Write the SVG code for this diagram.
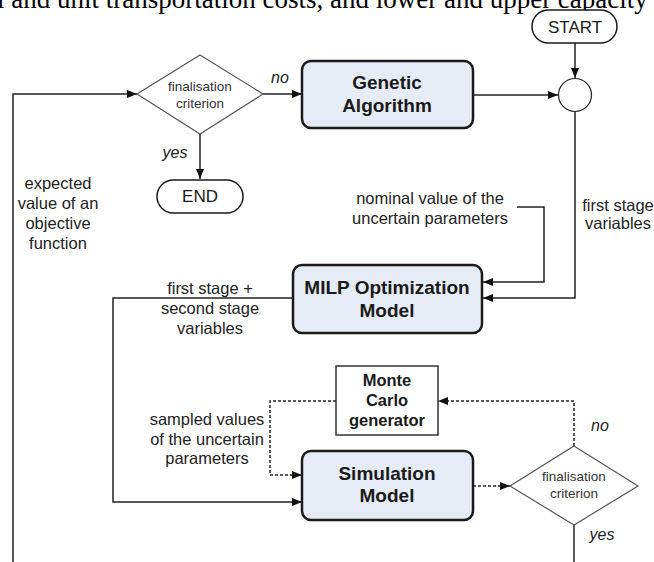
<svg xmlns="http://www.w3.org/2000/svg" width="654" height="562" viewBox="0 0 654 562">
<defs>
<style>
.serif{font-family:"Liberation Serif","Times New Roman",serif;font-size:27px;fill:#000}
.lbl{font-family:"Liberation Sans",Arial,sans-serif;font-size:16.5px;fill:#222;text-anchor:middle}
.it{font-family:"Liberation Sans",Arial,sans-serif;font-size:16px;font-style:italic;fill:#222;text-anchor:middle}
.dtxt{font-family:"Liberation Sans",Arial,sans-serif;font-size:13.5px;fill:#333;text-anchor:middle}
.btxt{font-family:"Liberation Sans",Arial,sans-serif;font-size:19px;font-weight:bold;fill:#1a1a1a;text-anchor:middle}
.mtxt{font-family:"Liberation Sans",Arial,sans-serif;font-size:16.5px;font-weight:bold;fill:#1a1a1a;text-anchor:middle}
.ttxt{font-family:"Liberation Sans",Arial,sans-serif;font-size:17px;fill:#1a1a1a;text-anchor:middle}
.box{fill:#e6ecf6;stroke:#1a1a1a;stroke-width:2.5}
.dia{fill:#fff;stroke:#555;stroke-width:1.2}
.term{fill:#fff;stroke:#1a1a1a;stroke-width:1.5}
.ln{fill:none;stroke:#222;stroke-width:1.5}
.dash{fill:none;stroke:#222;stroke-width:1.5;stroke-dasharray:3,2}
</style>
<marker id="ah" viewBox="0 0 10 8" refX="10" refY="4" markerWidth="10" markerHeight="8" markerUnits="userSpaceOnUse" orient="auto">
<path d="M0,0 L10,4 L0,8 Z" fill="#111"/>
</marker>
</defs>
<rect width="654" height="562" fill="#fff"/>
<text class="serif" x="-3" y="7.5">l and unit transportation costs, and lower and upper capacity o</text>

<g id="connectors">
<path class="ln" d="M13,562 V94 H137" marker-end="url(#ah)"/>
<path class="ln" d="M263,94 H302" marker-end="url(#ah)"/>
<path class="ln" d="M200,134 V179" marker-end="url(#ah)"/>
<path class="ln" d="M575,43 V78" marker-end="url(#ah)"/>
<path class="ln" d="M473,95 H558" marker-end="url(#ah)"/>
<path class="ln" d="M575,112 V298 H483" marker-end="url(#ah)"/>
<path class="ln" d="M517,207 H544 V282 H483" marker-end="url(#ah)"/>
<path class="ln" d="M293,298 H113 V502 H302" marker-end="url(#ah)"/>
<path class="dash" d="M336,401 H270 V475 H302" marker-end="url(#ah)"/>
<path class="dash" d="M473,486 H510" marker-end="url(#ah)"/>
<path class="dash" d="M574,446 V401 H438" marker-end="url(#ah)"/>
<path class="ln" d="M574,525 V562"/>
<text class="it" x="280" y="83">no</text>
<text class="it" x="175" y="158">yes</text>
<text class="it" x="600" y="431">no</text>
<text class="it" x="602" y="540">yes</text>
<text class="lbl" x="58" y="189">expected</text>
<text class="lbl" x="58" y="209">value of an</text>
<text class="lbl" x="58" y="229">objective</text>
<text class="lbl" x="58" y="249">function</text>
<text class="lbl" x="430" y="204">nominal value of the</text>
<text class="lbl" x="430" y="224">uncertain parameters</text>
<text class="lbl" x="618" y="211">first stage</text>
<text class="lbl" x="618" y="229">variables</text>
<text class="lbl" x="210" y="294">first stage +</text>
<text class="lbl" x="210" y="314">second stage</text>
<text class="lbl" x="210" y="334">variables</text>
<text class="lbl" x="207" y="425">sampled values</text>
<text class="lbl" x="207" y="445">of the uncertain</text>
<text class="lbl" x="207" y="464">parameters</text>
</g>

<g id="start">
<rect class="term" x="532" y="10" width="85" height="33" rx="16.5"/>
<text class="ttxt" x="575" y="33">START</text>
</g>
<g id="junction">
<circle cx="575" cy="95" r="16.5" fill="#fff" stroke="#222" stroke-width="1.2"/>
</g>
<g id="decision1">
<polygon class="dia" points="200,55 263,94 200,134 137,94"/>
<text class="dtxt" x="200" y="91">finalisation</text>
<text class="dtxt" x="200" y="108">criterion</text>
</g>
<g id="end">
<rect class="term" x="157" y="180" width="86" height="33" rx="16.5"/>
<text class="ttxt" x="200" y="202">END</text>
</g>
<g id="ga">
<rect class="box" x="302" y="61" width="171" height="67" rx="9"/>
<text class="btxt" x="387" y="89">Genetic</text>
<text class="btxt" x="387" y="112">Algorithm</text>
</g>
<g id="milp">
<rect class="box" x="293" y="265" width="189" height="68" rx="9"/>
<text class="btxt" x="387" y="294">MILP Optimization</text>
<text class="btxt" x="387" y="317">Model</text>
</g>
<g id="montecarlo">
<rect x="336" y="366" width="102" height="69" fill="#fff" stroke="#333" stroke-width="1.5"/>
<text class="mtxt" x="387" y="386">Monte</text>
<text class="mtxt" x="387" y="406">Carlo</text>
<text class="mtxt" x="387" y="426">generator</text>
</g>
<g id="simulation">
<rect class="box" x="302" y="451" width="171" height="69" rx="9"/>
<text class="btxt" x="387" y="480">Simulation</text>
<text class="btxt" x="387" y="502">Model</text>
</g>
<g id="decision2">
<polygon class="dia" points="574,446 638,486 574,525 510,486"/>
<text class="dtxt" x="574" y="481">finalisation</text>
<text class="dtxt" x="574" y="498">criterion</text>
</g>
</svg>
